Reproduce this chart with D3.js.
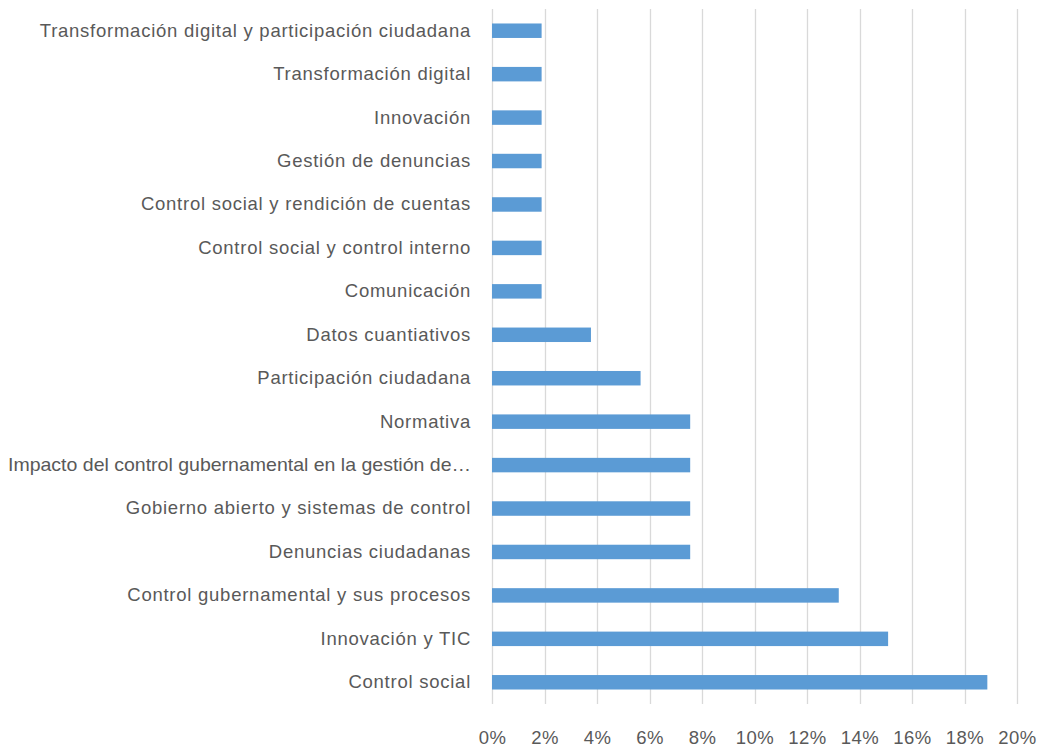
<!DOCTYPE html>
<html><head><meta charset="utf-8">
<script src="https://cdn.jsdelivr.net/npm/d3@7"></script>
<style>body{margin:0;background:#fff}</style>
</head><body>
<svg id="c" width="1040" height="748"></svg>
<script>
const categories = [
  "Transformación digital y participación ciudadana",
  "Transformación digital",
  "Innovación",
  "Gestión de denuncias",
  "Control social y rendición de cuentas",
  "Control social y control interno",
  "Comunicación",
  "Datos cuantiativos",
  "Participación ciudadana",
  "Normativa",
  "Impacto del control gubernamental en la gestión de…",
  "Gobierno abierto y sistemas de control",
  "Denuncias ciudadanas",
  "Control gubernamental y sus procesos",
  "Innovación y TIC",
  "Control social"
];
const values = [0.0189,0.0189,0.0189,0.0189,0.0189,0.0189,0.0189,0.0377,0.0566,0.0755,0.0755,0.0755,0.0755,0.1321,0.1509,0.1887];
const xTicks = [0,0.02,0.04,0.06,0.08,0.10,0.12,0.14,0.16,0.18,0.20];

const svg = d3.select("#c");
const font = "'Liberation Sans', Arial, sans-serif";
const x = d3.scaleLinear().domain([0,0.2]).range([492,1017]);
const y = d3.scaleBand().domain(categories).range([9,704]).paddingInner(2/3).paddingOuter(1/3);

// gridlines
svg.append("g").selectAll("line").data(xTicks).join("line")
  .attr("x1", d=>Math.round(x(d))+0.5).attr("x2", d=>Math.round(x(d))+0.5)
  .attr("y1", 9).attr("y2", 704)
  .attr("stroke", "#d9d9d9").attr("stroke-width", 1.3);

// bars
svg.append("g").selectAll("rect").data(values).join("rect")
  .attr("x", x(0)).attr("y", (d,i)=>y(categories[i]))
  .attr("width", d=>x(d)-x(0)).attr("height", y.bandwidth())
  .attr("fill", "#5b9bd5");

// y labels
const yAxis = d3.axisLeft(y).tickSize(0).tickPadding(21);
const gy = svg.append("g").attr("transform", `translate(${x(0)},0)`).call(yAxis);
gy.select(".domain").remove();
gy.selectAll("text").attr("font-family", font).attr("font-size", 18.5)
  .attr("letter-spacing", "0.75px").attr("fill", "#595959")
  .each(function(){
    const maxW = x(0) - 21 - 8;
    const w = this.getComputedTextLength();
    if (w > maxW) {
      d3.select(this).attr("letter-spacing", null)
        .attr("textLength", maxW).attr("lengthAdjust", "spacingAndGlyphs");
    }
  });

// x labels
const xAxis = d3.axisBottom(x).tickValues(xTicks).tickSize(0).tickPadding(27).tickFormat(d3.format(".0%"));
const gx = svg.append("g").attr("transform", `translate(0,704)`).call(xAxis);
gx.select(".domain").remove();
gx.selectAll("text").attr("font-family", font).attr("font-size", 18.5)
  .attr("letter-spacing", "0.5px").attr("fill", "#595959");
</script>
</body></html>
